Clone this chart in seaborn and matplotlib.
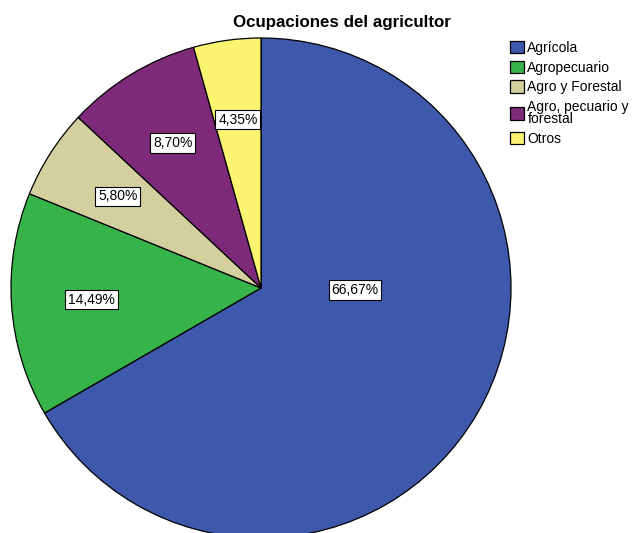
import matplotlib
matplotlib.use("Agg")
import matplotlib.pyplot as plt
import seaborn as sns

sns.set_style("white")
plt.rcParams['font.family'] = ['Liberation Sans', 'DejaVu Sans']
plt.rcParams['text.color'] = 'black'

categories = ["Agrícola", "Agropecuario", "Agro y Forestal", "Agro, pecuario y\nforestal", "Otros"]
values = [66.67, 14.49, 5.80, 8.70, 4.35]
labels_txt = ["66,67%", "14,49%", "5,80%", "8,70%", "4,35%"]
colors = ["#3E58AC", "#36B44A", "#D4CF9E", "#7E2A7B", "#FBF470"]

fig = plt.figure(figsize=(6.35, 5.33), dpi=100)
ax = fig.add_axes([11/635, (245-250)/533, 500/635, 500/533])

wedges, texts, autotexts = ax.pie(
    values, colors=colors, startangle=90, counterclock=False,
    autopct=lambda p: "", pctdistance=0.68,
    wedgeprops=dict(edgecolor="black", linewidth=0.9),
)
for t, lab in zip(autotexts, labels_txt):
    t.set_text(lab)
    t.set_fontsize(10)
    t.set_color("black")
    t.set_bbox(dict(facecolor="white", edgecolor="black", linewidth=0.8, pad=2))
# SPSS places the largest slice's label near the centre
autotexts[0].set_position((0.376, -0.008))

ax.set_xlim(-1, 1)
ax.set_ylim(-1, 1)
ax.set_aspect("equal")
ax.axis("off")

fig.text(342/635, 1-23/533, "Ocupaciones del agricultor", ha="center", va="center",
         fontsize=12.2, fontweight="bold", color="black")

leg = fig.legend(wedges, categories, loc="upper left", bbox_to_anchor=(510/635, 1-41/533),
                 frameon=False, fontsize=10, handlelength=1.0, handleheight=1.0,
                 handletextpad=0.25, labelspacing=0.4, borderpad=0, borderaxespad=0)
for txt in leg.get_texts():
    txt.set_linespacing(0.85)

fig.savefig("out.png", dpi=100)
